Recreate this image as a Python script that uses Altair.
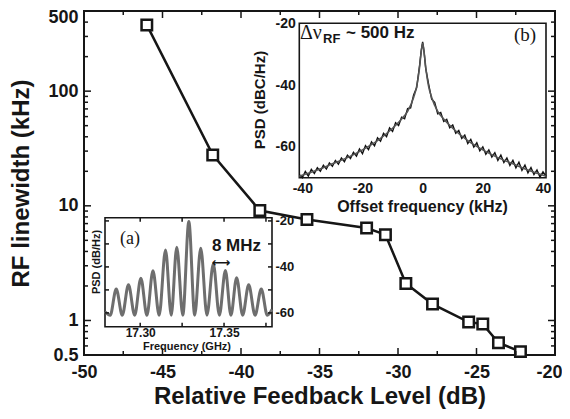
import altair as alt
import pandas as pd

# ---------------- data ----------------
feedback_db = [-46.0, -41.8, -38.8, -35.8, -32.0, -30.8, -29.5, -27.8, -25.5, -24.6, -23.6, -22.2]
linewidth_khz = [378, 27.8, 9.1, 7.6, 6.4, 5.6, 2.1, 1.39, 0.97, 0.93, 0.64, 0.535]

x_major = [-50, -45, -40, -35, -30, -25, -20]
x_minor = [-47.5, -42.5, -37.5, -32.5, -27.5, -22.5]
y_major = [1, 10, 100]
y_minor = [0.6, 0.7, 0.8, 0.9, 2, 3, 4, 5, 6, 7, 8, 9,
           20, 30, 40, 50, 60, 70, 80, 90, 200, 300, 400]
y_labels = [0.5, 1, 10, 100, 500]

# inset (a): beat-note comb
a_freq = [17.2790, 17.2821, 17.2857, 17.2893, 17.2930, 17.2967, 17.3004, 17.3040,
          17.3076, 17.3113, 17.3151, 17.3185, 17.3218, 17.3254, 17.3290, 17.3325,
          17.3361, 17.3398, 17.3436, 17.3472, 17.3508, 17.3541, 17.3575, 17.3611,
          17.3647, 17.3685, 17.3722, 17.3758, 17.3786]
a_psd = [-59.5, -61.0, -49.6, -61.0, -47.8, -61.0, -44.9, -61.0,
         -41.7, -61.0, -32.6, -61.0, -31.4, -61.0, -20.3, -61.0,
         -31.9, -61.0, -38.7, -61.0, -41.6, -61.0, -44.7, -61.0,
         -47.8, -61.0, -49.6, -61.0, -58.5]
a_xlabels = [17.30, 17.35]
a_xticks = [17.30, 17.325, 17.35, 17.375]
a_ylabels = [-20, -40, -60]
a_yticks = [-20, -30, -40, -50, -60]

# inset (b): RF spectrum, measured and fit
b_off = [-41, -40, -39, -38, -37, -36, -35, -34, -33, -32, -31, -30, -29, -28, -27, -26,
         -25, -24, -23, -22, -21, -20, -19, -18, -17, -16, -15, -14, -13, -12, -11, -10,
         -9, -8, -7, -6, -5, -4, -3, -2, -1, -0.5, 0, 0.5, 1, 2, 3, 4, 5, 6, 7, 8, 9,
         10, 11, 12, 13, 14, 15, 16, 17, 18, 19, 20, 21, 22, 23, 24, 25, 26, 27, 28,
         29, 30, 31, 32, 33, 34, 35, 36, 37, 38, 39, 40, 41]
b_meas = [-69.0, -70.0, -68.0, -69.5, -67.3, -68.6, -66.8, -67.9, -66.0, -67.2, -65.2,
          -66.3, -64.4, -65.6, -63.6, -64.8, -62.7, -63.8, -61.8, -63.0, -60.7, -62.2,
          -59.6, -60.9, -58.4, -59.7, -57.1, -58.2, -55.6, -56.7, -53.9, -55.0, -52.2,
          -53.1, -50.4, -50.9, -47.6, -47.4, -43.2, -40.9, -33.5, -29.0, -26.0, -29.5,
          -34.5, -39.8, -44.6, -45.6, -49.3, -48.9, -51.8, -51.1, -53.8, -52.9, -55.6,
          -54.7, -57.3, -56.2, -58.9, -57.6, -60.1, -58.7, -61.3, -60.0, -62.4, -61.0,
          -63.3, -61.9, -64.4, -62.7, -65.1, -63.6, -66.0, -64.4, -66.8, -65.0, -67.6,
          -65.9, -68.4, -66.7, -69.0, -67.5, -69.8, -68.1, -69.5]
b_fit_off = [-41, -35, -30, -25, -20, -15, -10, -7, -5, -3, -2, -1, -0.5, 0,
             0.5, 1, 2, 3, 5, 7, 10, 15, 20, 25, 30, 35, 41]
b_fit = [-69.5, -67.5, -65.5, -63.5, -61.0, -58.0, -54.0, -51.0, -48.5, -44.0, -40.5,
         -34.0, -29.5, -26.5, -29.5, -34.0, -40.5, -44.0, -48.5, -51.0, -54.0, -58.0,
         -61.0, -63.5, -65.5, -67.5, -69.5]
b_xlabels = [-40, -20, 0, 20, 40]
b_ylabels = [-20, -40, -60]

# ---------------- layout ----------------
W, H = 471, 344
SANS = "Liberation Sans"
SERIF = "Liberation Serif"
INK = "#161616"

# inset frames in plot pixels
A_L, A_R, A_T, A_B = 21, 188, 206.7, 315.7
B_L, B_R, B_T, B_B = 215.3, 462, 12.3, 166.7


def sc_main_x():
    return alt.Scale(domain=[-50, -20], nice=False, zero=False)


def sc_main_y():
    return alt.Scale(type="log", domain=[0.5, 500], nice=False)


a_xdom = [17.279, 17.3786]
a_ydom = [-66.0, -18.6]
b_xdom = [-41, 41]
b_ydom = [-70, -20]


def sc_ax():
    return alt.Scale(domain=a_xdom, range=[A_L, A_R], nice=False, zero=False)


def sc_ay():
    return alt.Scale(domain=a_ydom, range=[A_B, A_T], nice=False, zero=False)


def sc_bx():
    return alt.Scale(domain=b_xdom, range=[B_L, B_R], nice=False, zero=False)


def sc_by():
    return alt.Scale(domain=b_ydom, range=[B_B, B_T], nice=False, zero=False)


def ticks(values, field, scale, channel, edge, size, sign, thick=1.5):
    df = pd.DataFrame({field: values})
    if channel == "x":
        return alt.Chart(df).mark_tick(orient="vertical", size=size, thickness=thick,
                                       color=INK, opacity=1).encode(
            x=alt.X(f"{field}:Q", scale=scale, axis=None),
            y=alt.value(edge + sign * size / 2))
    return alt.Chart(df).mark_tick(orient="horizontal", size=size, thickness=thick,
                                   color=INK, opacity=1).encode(
        y=alt.Y(f"{field}:Q", scale=scale, axis=None),
        x=alt.value(edge + sign * size / 2))


def label_axis(**kw):
    base = dict(ticks=False, tickSize=0, domain=False, grid=False, labelFont=SANS,
                labelFontWeight="bold", labelColor=INK, labelFlush=False,
                labelOverlap=False, labelExpr="'' + datum.value")
    base.update(kw)
    return alt.Axis(**base)


layers = []

# ---------------- main chart ----------------
main_df = pd.DataFrame({"fb": feedback_db, "lw": linewidth_khz})
layers.append(alt.Chart(main_df).mark_line(color=INK, strokeWidth=2.5).encode(
    x=alt.X("fb:Q", scale=sc_main_x(), axis=label_axis(
        orient="bottom", values=x_major, labelFontSize=18, labelPadding=8,
        labelOffset=alt.condition("datum.value == -20", alt.value(-6), alt.value(0)),
        title="Relative Feedback Level (dB)", titleFont=SANS, titleFontSize=24,
        titleFontWeight="bold", titleColor=INK, titlePadding=3)),
    y=alt.Y("lw:Q", scale=sc_main_y(), axis=label_axis(
        orient="left", values=y_labels, labelFontSize=18, labelPadding=6,
        labelOffset=alt.condition("datum.value == 500", alt.value(6), alt.value(0)),
        title="RF linewidth (kHz)", titleFont=SANS, titleFontSize=24,
        titleFontWeight="bold", titleColor=INK, titlePadding=14))))
layers.append(alt.Chart(main_df).mark_point(shape="square", filled=True, fill="white",
                                            stroke=INK, strokeWidth=2.5, size=110,
                                            opacity=1).encode(
    x=alt.X("fb:Q", scale=sc_main_x(), axis=None),
    y=alt.Y("lw:Q", scale=sc_main_y(), axis=None)))

layers += [
    ticks(x_major, "fb", sc_main_x(), "x", H, 7, -1),
    ticks(x_minor, "fb", sc_main_x(), "x", H, 4, -1),
    ticks(x_major, "fb", sc_main_x(), "x", 0, 7, 1),
    ticks(x_minor, "fb", sc_main_x(), "x", 0, 4, 1),
    ticks(y_major, "lw", sc_main_y(), "y", 0, 7, 1),
    ticks(y_minor, "lw", sc_main_y(), "y", 0, 4, 1),
    ticks(y_major, "lw", sc_main_y(), "y", W, 7, -1),
    ticks(y_minor, "lw", sc_main_y(), "y", W, 4, -1),
]

# ---------------- inset (a) ----------------
a_frame_df = pd.DataFrame({"f0": [a_xdom[0]], "f1": [a_xdom[1]],
                           "p0": [a_ydom[0]], "p1": [a_ydom[1]]})
layers.append(alt.Chart(a_frame_df).mark_rect(fill="white", stroke=INK, strokeWidth=1.6).encode(
    x=alt.X("f0:Q", scale=sc_ax(), axis=label_axis(
        orient="bottom", offset=-(H - A_B), values=a_xlabels, labelFontSize=12,
        labelPadding=1, labelExpr="format(datum.value, '.2f')", title="")),
    x2="f1:Q",
    y=alt.Y("p0:Q", scale=sc_ay(), axis=label_axis(
        orient="right", offset=-(W - A_R), values=a_ylabels, labelFontSize=13,
        labelPadding=3, title="")),
    y2="p1:Q"))
a_df = pd.DataFrame({"freq": a_freq, "psd": a_psd})
layers.append(alt.Chart(a_df).mark_line(color="#6e6e6e", strokeWidth=3,
                                        interpolate="monotone").encode(
    x=alt.X("freq:Q", scale=sc_ax(), axis=None),
    y=alt.Y("psd:Q", scale=sc_ay(), axis=None)))
layers += [
    ticks(a_xticks, "freq", sc_ax(), "x", A_T, 4, 1),
    ticks(a_xticks, "freq", sc_ax(), "x", A_B, 4, -1),
    ticks(a_yticks, "psd", sc_ay(), "y", A_L, 4, 1),
    ticks(a_yticks, "psd", sc_ay(), "y", A_R, 4, -1),
]

# ---------------- inset (b) ----------------
b_frame_df = pd.DataFrame({"o0": [b_xdom[0]], "o1": [b_xdom[1]],
                           "q0": [b_ydom[0]], "q1": [b_ydom[1]]})
layers.append(alt.Chart(b_frame_df).mark_rect(fill="white", stroke=INK, strokeWidth=1.6).encode(
    x=alt.X("o0:Q", scale=sc_bx(), axis=label_axis(
        orient="bottom", offset=-(H - B_B), values=b_xlabels, labelFontSize=14,
        labelPadding=4, title="")),
    x2="o1:Q",
    y=alt.Y("q0:Q", scale=sc_by(), axis=label_axis(
        orient="left", offset=-B_L, values=b_ylabels, labelFontSize=14,
        labelPadding=4, title="")),
    y2="q1:Q"))
b_meas_df = pd.DataFrame({"off": b_off, "psd": b_meas})
b_fit_df = pd.DataFrame({"off": b_fit_off, "psd": b_fit})
layers.append(alt.Chart(b_meas_df).mark_line(color="#111111", strokeWidth=1.4).encode(
    x=alt.X("off:Q", scale=sc_bx(), axis=None),
    y=alt.Y("psd:Q", scale=sc_by(), axis=None)))
layers.append(alt.Chart(b_fit_df).mark_line(color="#555555", strokeWidth=1.6,
                                            interpolate="monotone").encode(
    x=alt.X("off:Q", scale=sc_bx(), axis=None),
    y=alt.Y("psd:Q", scale=sc_by(), axis=None)))

# ---------------- annotations ----------------
one = pd.DataFrame({"k": [0]})


def note(text, x, y, size, font=SANS, weight="bold", angle=0, align="center"):
    return alt.Chart(one).mark_text(text=text, font=font, fontSize=size, fontWeight=weight,
                                    angle=angle, align=align, baseline="middle",
                                    color=INK).encode(x=alt.value(x), y=alt.value(y))


layers += [
    note("(a)", 46, 228, 18, font=SERIF, weight="normal"),
    note("8 MHz", 152.5, 235, 17),
    note("⟷", 137, 252, 13, font="DejaVu Sans"),
    note("PSD (dB/Hz)", 13, 251, 11, angle=270),
    note("Frequency (GHz)", 103, 335.5, 11),
    note("Δν", 216, 22, 20, font=SERIF, weight="normal", align="left"),
    note("RF", 239, 28, 13, align="left"),
    note("~ 500 Hz", 262, 21.5, 17, align="left"),
    note("(b)", 441, 24, 19, font=SERIF, weight="normal"),
    note("PSD (dBC/Hz)", 176, 89, 15, angle=270),
    note("Offset frequency (kHz)", 338.5, 195.5, 16),
]

chart = alt.layer(*layers).resolve_scale(
    x="independent", y="independent"
).resolve_axis(
    x="independent", y="independent"
).properties(
    width=W, height=H,
    autosize=alt.AutoSizeParams(type="none"),
    padding={"left": 76, "top": 3, "right": 7, "bottom": 60},
    background="white",
).configure_view(stroke=INK, strokeWidth=2)

chart.save("out.html", embed_options={"renderer": "svg", "actions": False})
